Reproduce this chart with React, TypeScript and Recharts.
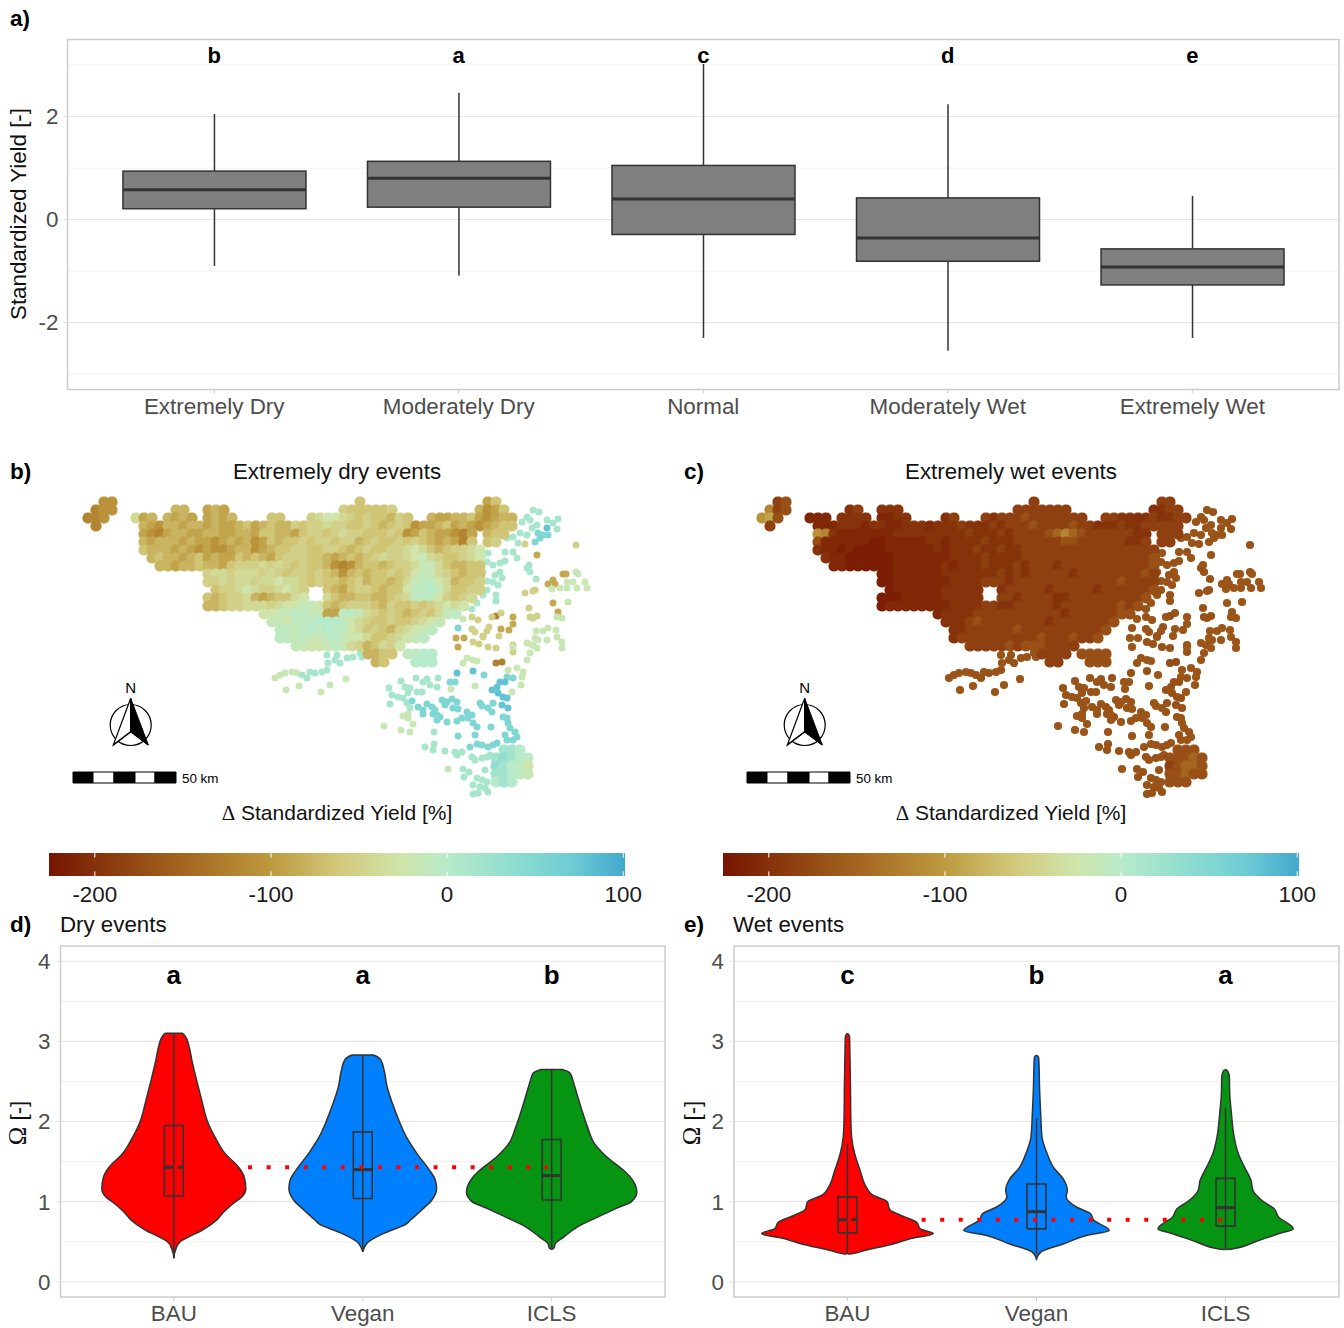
import React from 'react';
import {
  BarChart, Bar, ScatterChart, Scatter, XAxis, YAxis, CartesianGrid,
  ReferenceArea, ReferenceDot, ReferenceLine,
} from 'recharts';

// --- a) standardized yield by SPEI class
const spiCategories = ['Extremely Dry', 'Moderately Dry', 'Normal', 'Moderately Wet', 'Extremely Wet'];
const spiLetters = ['b', 'a', 'c', 'd', 'e'];
const spiLow = [-0.9, -1.09, -2.3, -2.55, -2.3];
const spiQ1 = [0.21, 0.24, -0.29, -0.81, -1.27];
const spiMedian = [0.58, 0.8, 0.4, -0.36, -0.92];
const spiQ3 = [0.94, 1.13, 1.05, 0.42, -0.57];
const spiHigh = [2.05, 2.46, 3.02, 2.24, 0.46];

// --- d/e) violins: [omega, half width in category units]
const dryBau = [[3.1, 0], [3.1, 0.045], [3.06, 0.061], [2.95, 0.079], [2.77, 0.095], [2.52, 0.12], [2.27, 0.147], [2.0, 0.178], [1.77, 0.226], [1.6, 0.271], [1.43, 0.343], [1.31, 0.372], [1.16, 0.381], [1.06, 0.361], [0.98, 0.316], [0.87, 0.264], [0.77, 0.226], [0.64, 0.147], [0.56, 0.079], [0.5, 0.034], [0.41, 0.011], [0.29, 0]];
const dryVegan = [[2.83, 0], [2.83, 0.056], [2.77, 0.095], [2.64, 0.113], [2.43, 0.129], [2.22, 0.158], [2.02, 0.19], [1.81, 0.23], [1.6, 0.287], [1.39, 0.354], [1.27, 0.384], [1.16, 0.391], [1.02, 0.366], [0.89, 0.309], [0.77, 0.253], [0.725, 0.233], [0.6, 0.108], [0.496, 0.029], [0.43, 0.009], [0.37, 0]];
const dryIcls = [[2.65, 0], [2.65, 0.056], [2.6, 0.099], [2.52, 0.111], [2.35, 0.133], [2.14, 0.16], [1.93, 0.19], [1.72, 0.228], [1.56, 0.291], [1.39, 0.381], [1.31, 0.415], [1.12, 0.451], [1.0, 0.422], [0.91, 0.336], [0.81, 0.246], [0.68, 0.133], [0.56, 0.065], [0.48, 0.02], [0.42, 0.012], [0.4, 0]];
const wetBau = [[3.1, 0], [3.06, 0.011], [2.85, 0.013], [2.43, 0.016], [2.02, 0.018], [1.81, 0.022], [1.6, 0.038], [1.39, 0.067], [1.18, 0.1], [1.08, 0.134], [1.0, 0.21], [0.9, 0.224], [0.83, 0.28], [0.745, 0.365], [0.66, 0.385], [0.6, 0.454], [0.54, 0.336], [0.475, 0.246], [0.39, 0.089], [0.35, 0.022], [0.345, 0]];
const wetVegan = [[2.83, 0], [2.8, 0.011], [2.72, 0.013], [2.43, 0.016], [2.1, 0.022], [1.81, 0.029], [1.6, 0.056], [1.43, 0.089], [1.27, 0.145], [1.14, 0.163], [1.06, 0.157], [0.93, 0.213], [0.85, 0.286], [0.77, 0.302], [0.64, 0.385], [0.58, 0.268], [0.475, 0.145], [0.37, 0.022], [0.27, 0]];
const wetIcls = [[2.65, 0], [2.63, 0.011], [2.56, 0.02], [2.35, 0.022], [2.1, 0.031], [1.81, 0.045], [1.6, 0.067], [1.43, 0.1], [1.27, 0.134], [1.14, 0.145], [1.02, 0.19], [0.91, 0.257], [0.81, 0.28], [0.66, 0.358], [0.6, 0.28], [0.5, 0.157], [0.41, 0.034], [0.4, 0]];

const omegaScenarios = ['BAU', 'Vegan', 'ICLS'];
const scenarioColors = ['#ff0000', '#007fff', '#069512'];
const dryLetters = ['a', 'a', 'b'];
const wetLetters = ['c', 'b', 'a'];
const dryHigh = [3.1, 2.83, 2.65];
const dryQ3 = [1.95, 1.87, 1.775];
const dryMedian = [1.43, 1.4, 1.325];
const dryQ1 = [1.07, 1.04, 1.02];
const dryLow = [0.3, 0.37, 0.4];
const wetHigh = [1.72, 2.04, 2.175];
const wetQ3 = [1.06, 1.22, 1.29];
const wetMedian = [0.775, 0.875, 0.925];
const wetQ1 = [0.61, 0.66, 0.695];
const wetLow = [0.35, 0.35, 0.4];

// --- colour bar
const colorStopValues = [-226, -200, -150, -100, -60, -25, 0, 40, 70, 101];
const colorStopHex = ['#761500', '#85310a', '#a4651f', '#bd9a3f', '#d3ca7d', '#cfe5ab', '#b8ebca', '#8bdcd0', '#6fcdd5', '#42a8cc'];
const colorbarTicks = [-200, -100, 0, 100];
const colorbarEnds = [-226, 101];

// --- b/c) maps. Raster cells are [row, first column, one letter per cell]; the letter is a level.
const levelKeys = 'ABCDEFGHIJKLMNOPQRSTU';
const levelValues = [-218, -208, -198, -186, -170, -150, -120, -108, -92, -78, -65, -52, -40, -25, -15, -7, 3, 20, 35, 65, 80];

const drySegments: [number, number, string][] = [
  [0, 3, 'HH'], [0, 35, 'K'], [0, 51, 'IK'],
  [1, 2, 'GHH'], [1, 12, 'JJ'], [1, 16, 'IJI'], [1, 33, 'LKKKK'], [1, 38, 'KL'], [1, 50, 'JHIK'],
  [2, 1, 'GGH'], [2, 7, 'MIJ'], [2, 11, 'JIJI'], [2, 16, 'IJIJ'], [2, 24, 'KK'], [2, 29, 'LMNN'], [2, 33, 'MLKLKKJLK'], [2, 44, 'JIIJJKIHIJJ'],
  [3, 2, 'G'], [3, 8, 'JIHJJIJJIJIIJKIJKJJLKLLMLLKKLKJKLKHIIJKIJIHIJKK'],
  [4, 8, 'IHGIJJIIJJIIJJIKKJJIKLLKLMLLKKKLKHIKJIIHGI'], [4, 51, 'JKK'],
  [5, 8, 'JIJJJIJIIHIJIJHIKJKKLKLLKLLJKLKKLKLKJIJIGK'], [5, 51, 'KL'],
  [6, 8, 'KJJJIJIHIHHIJJHIJKKLLKKLLKJKLKKLLMNMKJKLLMN'],
  [7, 9, 'JKJJIJKIJIIKJKJIKLLLKKJIJKJKLMLLMNOMLKKLMN'],
  [8, 10, 'JJIJJKJJIKLLLMLMLKLKKJHGHJKKJKLLMOOMKJJKK'],
  [9, 16, 'LMMLMMMLMLKLLKLKJHJKJKKLKLNOOMLKJKK'],
  [10, 16, 'LLMLMMLMMNMMLKLKKJKLJKKJKMOPPNMJKKL'],
  [11, 17, 'KLLMNMLLMNML'], [11, 31, 'KJIKLLKJKKNPPQOMKKLL'],
  [12, 16, 'KJKLLMJIJKKMN'], [12, 31, 'MKJJKKJJKLMPPPNLKLM'],
  [13, 16, 'JJKLLMMMLMNNOONKJKLLLKJLKKLKLMNMN'],
  [14, 23, 'NNOOPPOOIIPPOMLKLKJKLKMOP'],
  [15, 24, 'OONPPPQQQPNMLKKLKKLMNO'],
  [16, 25, 'PPOPQPQPPNMKLKJLMNOP'],
  [17, 25, 'PPOPOOPQONNMKKLMNOP'],
  [18, 27, 'OONNOPOMLJKMLN'],
  [19, 36, 'JJKK'], [19, 41, 'PPQQ'],
  [20, 37, 'JK'], [20, 42, 'QQQ'],
  [31, 53, 'RRQ'], [32, 52, 'RSRQP'], [33, 52, 'SRQPN'], [34, 52, 'RRQPO'], [35, 52, 'QRQ'],
];

const wetSegments: [number, number, string][] = [
  [0, 3, 'DE'], [0, 35, 'D'], [0, 51, 'DD'],
  [1, 2, 'GDE'], [1, 12, 'CD'], [1, 16, 'CCC'], [1, 33, 'DDDDD'], [1, 38, 'DD'], [1, 50, 'CCDD'],
  [2, 1, 'HIE'], [2, 7, 'BBB'], [2, 11, 'CCCC'], [2, 16, 'BBCC'], [2, 24, 'CD'], [2, 29, 'DCDD'], [2, 33, 'DEDDDDDDD'], [2, 44, 'DDCCCCDCCDD'],
  [3, 2, 'D'], [3, 8, 'BBBCCCBCCBBCCCBCCCDCCCDCDDDEDDDDEDDCCCDCCDDDDD'],
  [4, 8, 'HGCBBBBBBBCCCCCCCCCDCCCDCDDDDEFGFEDDDDDDCC'], [4, 51, 'DDD'],
  [5, 8, 'EBBBBBBAABBBBBCCBCCCCDCCCDDDDDDEEDDDDDDCCD'], [5, 51, 'DD'],
  [6, 8, 'CBBABAAAABBBBBBCBCCCDCCDCCDDDDDDDDDDDDDDDDD'],
  [7, 9, 'CBBAAAAAABBBBBBBCCCCDCCCCDDDDDDDDDDDDDDDDE'],
  [8, 10, 'BBAAAAAABBBBBBCBCCCDCCCDCDDDCDDDDDDDDDDDE'],
  [9, 16, 'AABBBBBBCCCCCCCDCDCDDDDDCDDDDDDDDED'],
  [10, 16, 'AABBBBBBBCCCCDDDCDDDDDDDDDDDDDEDDDD'],
  [11, 17, 'ABBBBBBCCCCC'], [11, 31, 'CDDDDDCDDDDDCDDDDDDE'],
  [12, 16, 'AAABBBBBCCCCC'], [12, 31, 'DDCDDDDCCDDDDDDDDDE'],
  [13, 16, 'ABBBBBBBBCCCCDDCCDDDDDCDDDDDDDEDE'],
  [14, 23, 'BCCCCDDDDDDDDDDDCDDDDDDEE'],
  [15, 24, 'CCCDEDDDDDDDDCDDDDDDDE'],
  [16, 25, 'CCDDDDDDEDDDDDDDDDDE'],
  [17, 25, 'CDDDDDDDDDDEDDDEDDE'],
  [18, 27, 'DDDDDEDEEEDDDD'],
  [19, 36, 'DDDD'], [19, 41, 'EEEE'],
  [20, 37, 'DD'], [20, 42, 'EEE'],
  [31, 53, 'EEE'], [32, 52, 'EEEFE'], [33, 52, 'DEFFE'], [34, 52, 'EEFEE'], [35, 52, 'EEE'],
];

// single stations, map easting/southing
const stationsDarkGold = [[496, 663], [502, 662], [496, 616]];
const stationsGold = [[537, 555], [563, 574], [566, 574], [553, 580], [555, 584], [548, 584], [553, 603], [558, 612], [513, 617], [513, 624], [509, 630], [501, 629], [458, 647], [464, 638], [456, 638], [528, 766]];
const stationsPale = [[525, 544], [576, 545], [533, 591], [535, 590], [525, 593], [529, 608], [530, 617], [537, 616], [533, 618], [501, 613], [492, 617], [472, 617], [478, 620], [489, 627], [487, 631], [499, 636], [483, 637], [479, 644], [488, 647], [496, 648], [513, 645], [513, 652], [472, 629], [475, 632], [483, 636], [473, 642]];
const stationsLight = [[576, 572], [578, 574], [552, 589], [560, 588], [567, 582], [567, 588], [573, 582], [577, 588], [585, 582], [587, 588], [568, 602], [557, 617], [562, 618], [536, 631], [543, 631], [548, 628], [556, 630], [557, 637], [547, 640], [562, 642], [535, 638], [538, 640], [527, 643], [532, 645], [537, 648], [562, 648], [463, 619], [473, 660], [467, 658], [477, 661], [463, 663], [533, 645], [530, 653], [527, 660], [275, 678], [280, 675], [285, 673], [292, 672], [297, 673], [286, 690], [299, 686], [321, 692], [330, 685], [346, 679], [403, 716], [408, 714], [408, 718], [384, 726], [401, 730], [410, 732], [413, 724], [448, 769], [513, 647], [523, 672], [517, 668], [508, 670], [522, 677], [521, 685], [512, 692], [475, 686], [451, 689]];
const stationsMint = [[533, 510], [539, 512], [547, 520], [558, 519], [553, 523], [557, 529], [527, 517], [522, 522], [530, 520], [537, 525], [532, 528], [520, 533], [527, 535], [513, 537], [507, 538], [518, 543], [513, 552], [517, 558], [505, 552], [488, 553], [482, 557], [475, 552], [505, 561], [500, 563], [493, 565], [487, 562], [483, 572], [500, 572], [495, 575], [502, 578], [487, 581], [493, 582], [498, 585], [480, 585], [487, 590], [483, 595], [496, 595], [496, 601], [477, 603], [472, 609], [529, 565], [527, 568], [530, 572], [536, 579], [302, 675], [307, 678], [310, 672], [315, 673], [322, 672], [327, 670], [328, 663], [335, 660], [340, 663], [347, 658], [353, 657], [360, 653], [362, 657], [337, 655], [327, 655], [389, 688], [392, 695], [398, 697], [403, 698], [390, 704], [401, 681], [405, 687], [410, 688], [408, 693], [417, 692], [422, 692], [416, 678], [423, 682], [427, 679], [430, 685], [437, 687], [438, 678], [407, 703], [410, 708], [425, 747], [434, 744], [433, 750], [445, 751], [434, 732], [457, 755], [462, 752], [455, 752], [472, 757], [482, 758], [487, 757], [490, 755], [475, 760], [463, 769], [469, 772], [464, 777], [477, 778], [482, 780], [487, 782], [473, 785], [480, 787], [485, 788], [488, 792], [478, 793], [473, 794], [485, 770], [495, 772], [498, 780], [495, 783]];
const stationsTeal = [[412, 701], [418, 707], [427, 704], [423, 710], [423, 714], [432, 707], [435, 710], [433, 714], [437, 715], [440, 717], [437, 720], [442, 700], [447, 702], [452, 699], [457, 702], [445, 705], [453, 708], [458, 709], [447, 722], [457, 721], [462, 718], [467, 712], [472, 715], [468, 718], [473, 723], [477, 727], [475, 735], [491, 727], [480, 703], [482, 706], [488, 708], [492, 712], [493, 703], [503, 717], [507, 718], [508, 723], [510, 728], [515, 732], [517, 737], [505, 735], [507, 740], [513, 740], [477, 744], [482, 745], [488, 747], [493, 745], [497, 743], [470, 747], [458, 736], [450, 682], [455, 682], [507, 677], [513, 678], [484, 675], [538, 533], [543, 535], [548, 535], [540, 538], [535, 542], [458, 628]];
const stationsBlue = [[473, 671], [492, 690], [497, 687], [500, 682], [505, 682], [498, 693], [503, 697], [507, 698], [502, 705], [508, 708], [457, 673], [547, 528]];
const stationGroups = [stationsDarkGold, stationsGold, stationsPale, stationsLight, stationsMint, stationsTeal, stationsBlue];
const stationDryValues = [-125, -88, -52, -18, 14, 52, 78];
const stationWetValues = [-172, -165, -167, -165, -168, -166, -170];
const scaleBarBreaks = [73, 93, 114, 135, 155, 176];

const FONT = '"Liberation Sans", Arial, sans-serif';
const TICK_COLOR = '#4d4d4d';
const TICK_SIZE = 22.4;

const hexToRgb = (hex: string) => [1, 3, 5].map(i => parseInt(hex.slice(i, i + 2), 16));

const valueColor = (v: number) => {
  let i = 0;
  while (i < colorStopValues.length - 2 && v > colorStopValues[i + 1]) i++;
  const t = Math.max(0, Math.min(1, (v - colorStopValues[i]) / (colorStopValues[i + 1] - colorStopValues[i])));
  const a = hexToRgb(colorStopHex[i]);
  const b = hexToRgb(colorStopHex[i + 1]);
  return `rgb(${a.map((c, k) => Math.round(c + (b[k] - c) * t)).join(',')})`;
};

const BoxShape = (props: any) => {
  const { x, y, width, height, payload } = props;
  const perUnit = height / (payload.q3 - payload.q1);
  const cx = x + width / 2;
  const toY = (v: number) => y + (payload.q3 - v) * perUnit;
  return (
    <g>
      <line x1={cx} x2={cx} y1={toY(payload.high)} y2={y} stroke="#333333" strokeWidth={1.5} />
      <line x1={cx} x2={cx} y1={y + height} y2={toY(payload.low)} stroke="#333333" strokeWidth={1.5} />
      <rect x={x} y={y} width={width} height={height} fill="#7f7f7f" stroke="#333333" strokeWidth={1.5} />
      <line x1={x} x2={x + width} y1={toY(payload.median)} y2={toY(payload.median)} stroke="#333333" strokeWidth={3} />
    </g>
  );
};

const spiData = spiCategories.map((name, i) => ({
  name,
  range: [spiQ1[i], spiQ3[i]],
  low: spiLow[i],
  q1: spiQ1[i],
  median: spiMedian[i],
  q3: spiQ3[i],
  high: spiHigh[i],
}));

const YieldPanel = () => (
  <div style={{ position: 'absolute', left: 0, top: 0 }}>
    <BarChart width={1344} height={430} data={spiData} margin={{ top: 39.5, right: 5, bottom: 0.5, left: 0 }}>
      <CartesianGrid vertical={false} horizontalValues={[-3, -1, 1, 3]} stroke="#f0f0f0" strokeWidth={1} />
      <CartesianGrid vertical={false} horizontalValues={[-2, 0, 2]} stroke="#e6e6e6" strokeWidth={1.2} />
      <XAxis
        dataKey="name"
        height={40}
        padding={{ left: 24.45, right: 24.45 }}
        axisLine={false}
        tickSize={4}
        tickMargin={5}
        tickLine={{ stroke: '#cccccc' }}
        tick={{ fontSize: TICK_SIZE, fill: TICK_COLOR }}
      />
      <YAxis
        width={67.5}
        domain={[-3.3, 3.495]}
        ticks={[-2, 0, 2]}
        axisLine={false}
        tickSize={4}
        tickMargin={5}
        tickLine={{ stroke: '#e0e0e0' }}
        tick={{ fontSize: TICK_SIZE, fill: TICK_COLOR }}
      />
      <Bar dataKey="range" barSize={183} shape={BoxShape} isAnimationActive={false} />
      {spiCategories.map((name, i) => (
        <ReferenceDot
          key={name}
          x={name}
          y={3.2}
          r={0}
          stroke="none"
          fill="none"
          label={{ value: spiLetters[i], position: 'center', fontSize: 22, fontWeight: 'bold', fill: '#000000' }}
        />
      ))}
      <rect x={67.5} y={39.5} width={1271.5} height={350} fill="none" stroke="#cccccc" strokeWidth={1.5} />
    </BarChart>
  </div>
);

const StationDot = ({ cx, cy, payload, r }: any) => <circle cx={cx} cy={cy} r={r} fill={valueColor(payload.value)} />;
const CellMark = ({ cx, cy, payload }: any) => (
  <rect x={cx - 5.5} y={cy - 5.5} width={11} height={11} rx={5} fill={valueColor(payload.value)} />
);

const NorthArrow = () => (
  <g>
    <circle cx={130.7} cy={245} r={20.5} fill="none" stroke="#000000" strokeWidth={1.2} />
    <path d="M130.7 218.3 L113.3 265 L130.7 251.7 Z" fill="#ffffff" stroke="#000000" strokeWidth={1.2} />
    <path d="M130.7 218.3 L148.3 265 L130.7 251.7 Z" fill="#000000" stroke="#000000" strokeWidth={1} />
    <path d="M113.3 265 L130.7 251.7 L148.3 265" fill="none" stroke="#000000" strokeWidth={1.2} />
    <text x={130.7} y={213} textAnchor="middle" fontSize={15} fill="#000000">N</text>
  </g>
);

const MapPanel = ({ left, segments, stationValues, r }: any) => {
  const cells: any[] = [];
  segments.forEach(([row, col, letters]: [number, number, string]) => {
    letters.split('').forEach((ch, k) => {
      cells.push({ x: 80 + 8 * (col + k), y: 502 + 8 * row, value: levelValues[levelKeys.indexOf(ch)] });
    });
  });
  const stations: any[] = [];
  stationGroups.forEach((group, g) => {
    group.forEach(([x, y]) => stations.push({ x, y, value: stationValues[g] }));
  });
  return (
    <div style={{ position: 'absolute', left, top: 480 }}>
      <ScatterChart width={640} height={330} margin={{ top: 0, right: 0, bottom: 0, left: 0 }}>
        <XAxis dataKey="x" type="number" domain={[0, 640]} hide />
        <YAxis dataKey="y" type="number" domain={[480, 810]} reversed hide />
        <Scatter data={stations} isAnimationActive={false} shape={(p: any) => <StationDot {...p} r={r} />} />
        <Scatter data={cells} isAnimationActive={false} shape={CellMark} />
        {scaleBarBreaks.slice(0, -1).map((b, i) => (
          <ReferenceArea
            key={b}
            x1={b}
            x2={scaleBarBreaks[i + 1]}
            y1={772}
            y2={783}
            fill={i % 2 === 0 ? '#000000' : '#ffffff'}
            fillOpacity={1}
            stroke="#000000"
          />
        ))}
        <NorthArrow />
        <text x={182} y={303} fontSize={13.4} fill="#000000">50 km</text>
      </ScatterChart>
    </div>
  );
};

const NoPoint = () => <g />;

const Colorbar = ({ left }: { left: number }) => (
  <div style={{ position: 'absolute', left, top: 846 }}>
    <ScatterChart width={660} height={64} margin={{ top: 7, right: 35, bottom: 0, left: 49 }}>
      <defs>
        <linearGradient id={`cbar-${left}`} x1="0" y1="0" x2="1" y2="0">
          {colorStopValues.map((v, i) => (
            <stop key={v} offset={(v + 226) / 327} stopColor={colorStopHex[i]} />
          ))}
        </linearGradient>
      </defs>
      <XAxis
        type="number"
        dataKey="x"
        domain={colorbarEnds}
        ticks={colorbarTicks}
        height={34}
        axisLine={false}
        tickLine={false}
        tick={{ fontSize: TICK_SIZE, fill: '#1a1a1a' }}
        tickMargin={4}
      />
      <YAxis type="number" dataKey="y" domain={[0, 1]} hide />
      <Scatter data={colorbarEnds.map((x, i) => ({ x, y: i }))} shape={NoPoint} isAnimationActive={false} />
      <ReferenceArea x1={colorbarEnds[0]} x2={colorbarEnds[1]} y1={0} y2={1} fill={`url(#cbar-${left})`} fillOpacity={1} stroke="none" />
      {colorbarTicks.map(t => (
        <ReferenceLine key={`lo-${t}`} segment={[{ x: t, y: 0 }, { x: t, y: 0.2 }]} stroke="#ffffff" />
      ))}
      {colorbarTicks.map(t => (
        <ReferenceLine key={`hi-${t}`} segment={[{ x: t, y: 0.8 }, { x: t, y: 1 }]} stroke="#ffffff" />
      ))}
    </ScatterChart>
  </div>
);

const violinOutline = (center: number, shape: number[][]) => {
  const right = shape.map(([y, w]) => ({ x: center + w, y }));
  const left = [...shape].reverse().map(([y, w]) => ({ x: center - w, y }));
  return [...right, ...left, right[0]];
};

const ViolinPanel = ({ left, plotLeft, violins, letters, high, q3, median, q1, low, reference }: any) => (
  <div style={{ position: 'absolute', left, top: 940 }}>
    <ScatterChart width={670} height={388} margin={{ top: 6, right: 5, bottom: 1, left: 0 }}>
      <CartesianGrid vertical={false} horizontalValues={[0.5, 1.5, 2.5, 3.5]} stroke="#f0f0f0" strokeWidth={1} />
      <CartesianGrid vertical={false} horizontalValues={[0, 1, 2, 3, 4]} stroke="#e6e6e6" strokeWidth={1.2} />
      <XAxis
        type="number"
        dataKey="x"
        domain={[0.4, 3.6]}
        ticks={[1, 2, 3]}
        tickFormatter={(v: number) => omegaScenarios[v - 1]}
        height={30}
        axisLine={false}
        tickSize={4}
        tickMargin={4}
        tickLine={{ stroke: '#cccccc' }}
        tick={{ fontSize: TICK_SIZE, fill: TICK_COLOR }}
      />
      <YAxis
        type="number"
        dataKey="y"
        width={plotLeft}
        domain={[-0.19, 4.19]}
        ticks={[0, 1, 2, 3, 4]}
        axisLine={false}
        tickSize={4}
        tickMargin={6}
        tickLine={{ stroke: '#e0e0e0' }}
        tick={{ fontSize: TICK_SIZE, fill: TICK_COLOR }}
      />
      {violins.map((shape: number[][], i: number) => (
        <Scatter
          key={`v${i}`}
          data={violinOutline(i + 1, shape)}
          shape={NoPoint}
          line={{ stroke: '#333333', strokeWidth: 1.5, fill: scenarioColors[i] }}
          lineJointType="monotoneY"
          isAnimationActive={false}
        />
      ))}
      {omegaScenarios.map((name, i) => (
        <Scatter
          key={`w${name}`}
          data={[{ x: i + 1, y: high[i] }, { x: i + 1, y: low[i] }]}
          shape={NoPoint}
          line={{ stroke: '#333333', strokeWidth: 1.5 }}
          isAnimationActive={false}
        />
      ))}
      {omegaScenarios.map((name, i) => (
        <Scatter
          key={`b${name}`}
          data={[
            { x: i + 0.95, y: q1[i] }, { x: i + 1.05, y: q1[i] }, { x: i + 1.05, y: q3[i] },
            { x: i + 0.95, y: q3[i] }, { x: i + 0.95, y: q1[i] },
          ]}
          shape={NoPoint}
          line={{ stroke: '#333333', strokeWidth: 1.6 }}
          isAnimationActive={false}
        />
      ))}
      {omegaScenarios.map((name, i) => (
        <Scatter
          key={`m${name}`}
          data={[{ x: i + 0.95, y: median[i] }, { x: i + 1.05, y: median[i] }]}
          shape={NoPoint}
          line={{ stroke: '#333333', strokeWidth: 3 }}
          isAnimationActive={false}
        />
      ))}
      <Scatter
        data={[{ x: 1, y: reference }, { x: 2.98, y: reference }]}
        shape={NoPoint}
        line={{ stroke: '#ff0000', strokeWidth: 4, strokeDasharray: '4 14.55' }}
        isAnimationActive={false}
      />
      {omegaScenarios.map((name, i) => (
        <ReferenceDot
          key={`l${name}`}
          x={i + 1}
          y={3.83}
          r={0}
          stroke="none"
          fill="none"
          label={{ value: letters[i], position: 'center', fontSize: 26, fontWeight: 'bold', fill: '#000000' }}
        />
      ))}
      <rect x={plotLeft} y={6} width={665 - plotLeft} height={351} fill="none" stroke="#cccccc" strokeWidth={1.5} />
    </ScatterChart>
  </div>
);

const OmegaLabel = ({ x }: { x: number }) => (
  <text transform={`translate(${x} 1123) rotate(-90)`} textAnchor="middle">
    <tspan fontFamily='"Liberation Serif", serif' fontSize={25}>{'\u03a9'}</tspan>
    <tspan> [-]</tspan>
  </text>
);

const DeltaLabel = ({ x }: { x: number }) => (
  <text x={x} y={820} textAnchor="middle" fontSize={21}>
    <tspan fontFamily='"Liberation Serif", serif'>{'\u0394'}</tspan>
    <tspan> Standardized Yield [%]</tspan>
  </text>
);

const PageText = () => (
  <svg width={1344} height={1328} style={{ position: 'absolute', left: 0, top: 0, pointerEvents: 'none' }}>
    <g fontSize={22.5} fontWeight="bold" fill="#000000">
      <text x={10} y={26}>a)</text>
      <text x={10} y={479}>b)</text>
      <text x={684} y={479}>c)</text>
      <text x={10} y={932}>d)</text>
      <text x={684} y={932}>e)</text>
    </g>
    <g fontSize={22.3} fill="#111111">
      <text x={337} y={479} textAnchor="middle">Extremely dry events</text>
      <text x={1011} y={479} textAnchor="middle">Extremely wet events</text>
      <DeltaLabel x={337} />
      <DeltaLabel x={1011} />
      <text x={60} y={932}>Dry events</text>
      <text x={733} y={932}>Wet events</text>
      <text transform="translate(26 214) rotate(-90)" textAnchor="middle">Standardized Yield [-]</text>
      <OmegaLabel x={26} />
      <OmegaLabel x={700} />
    </g>
  </svg>
);

export default function App() {
  return (
    <div style={{ position: 'absolute', left: 0, top: 0, width: 1344, height: 1328, background: '#ffffff', fontFamily: FONT }}>
      <YieldPanel />
      <MapPanel left={0} segments={drySegments} stationValues={stationDryValues} r={3.5} />
      <MapPanel left={674} segments={wetSegments} stationValues={stationWetValues} r={4.1} />
      <Colorbar left={0} />
      <Colorbar left={674} />
      <ViolinPanel
        left={0}
        plotLeft={60.5}
        violins={[dryBau, dryVegan, dryIcls]}
        letters={dryLetters}
        high={dryHigh}
        q3={dryQ3}
        median={dryMedian}
        q1={dryQ1}
        low={dryLow}
        reference={1.43}
      />
      <ViolinPanel
        left={674}
        plotLeft={60}
        violins={[wetBau, wetVegan, wetIcls]}
        letters={wetLetters}
        high={wetHigh}
        q3={wetQ3}
        median={wetMedian}
        q1={wetQ1}
        low={wetLow}
        reference={0.775}
      />
      <PageText />
    </div>
  );
}
